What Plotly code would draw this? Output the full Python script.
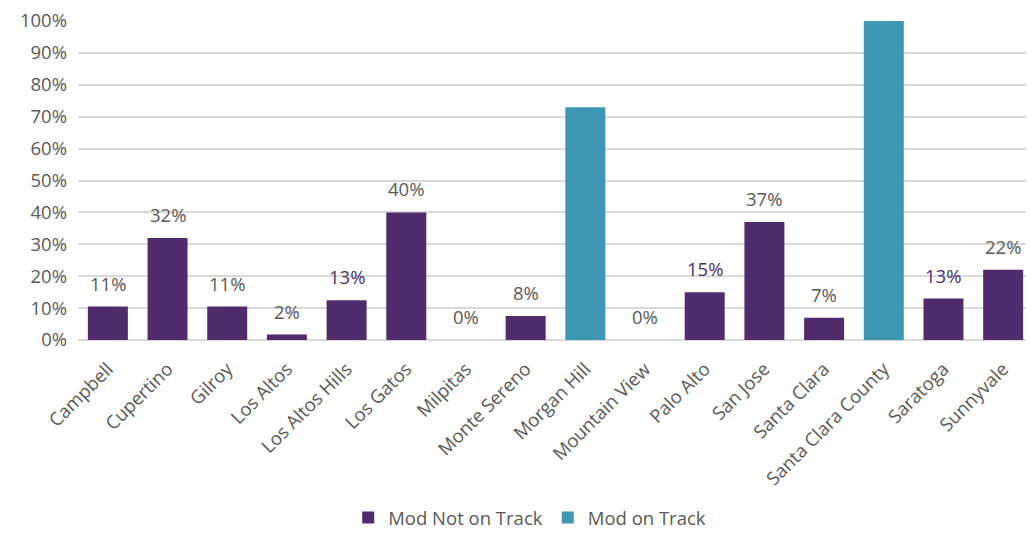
import plotly.graph_objects as go

categories = ["Campbell", "Cupertino", "Gilroy", "Los Altos", "Los Altos Hills", "Los Gatos",
              "Milpitas", "Monte Sereno", "Morgan Hill", "Mountain View", "Palo Alto", "San Jose",
              "Santa Clara", "Santa Clara County", "Saratoga", "Sunnyvale"]
not_on_track = [0.105, 0.32, 0.105, 0.017, 0.125, 0.40, 0.0, 0.075, None, 0.0, 0.15, 0.37,
                0.07, None, 0.13, 0.22]
on_track = [None, None, None, None, None, None, None, None, 0.73, None, None, None,
            None, 1.0, None, None]
labels = ["11%", "32%", "11%", "2%", "13%", "40%", "0%", "8%", None, "0%", "15%", "37%",
          "7%", None, "13%", "22%"]
label_purple = [False, False, False, False, True, False, False, False, False, False, True, False,
                False, False, True, False]

PURPLE = "#512C6C"
TEAL = "#3F97B6"
GRAY = "#595959"
FONT = "Open Sans"

fig = go.Figure()
fig.add_trace(go.Bar(x=categories, y=not_on_track, name="Mod Not on Track",
                     marker=dict(color=PURPLE, line=dict(width=0))))
fig.add_trace(go.Bar(x=categories, y=on_track, name="Mod on Track",
                     marker=dict(color=TEAL, line=dict(width=0))))

for c, v, t, p in zip(categories, not_on_track, labels, label_purple):
    if t is None:
        continue
    fig.add_annotation(x=c, y=v if v is not None else 0, text=t, showarrow=False,
                       yanchor="bottom", yshift=9,
                       font=dict(family=FONT, size=18.5, color=PURPLE if p else GRAY))

fig.update_layout(
    width=1026, height=536,
    margin=dict(l=70, r=1, t=13, b=204, autoexpand=False),
    barmode="overlay", bargap=0.33,
    plot_bgcolor="white", paper_bgcolor="white",
    font=dict(family=FONT, size=18, color=GRAY),
    showlegend=True,
    legend=dict(orientation="h", x=0.473, xanchor="center", y=-0.558, yanchor="middle",
                font=dict(family=FONT, size=18.5, color=GRAY), itemwidth=30,
                traceorder="normal"),
    xaxis=dict(tickangle=-45, showgrid=False, showline=False, ticks="outside",
               ticklen=10, tickcolor="rgba(0,0,0,0)", automargin=False,
               tickfont=dict(family=FONT, size=18.5, color=GRAY)),
    yaxis=dict(range=[0, 1.0], dtick=0.1, tickformat=".0%", showgrid=True,
               gridcolor="#D9D9D9", gridwidth=1.5, zeroline=True, zerolinecolor="#D9D9D9",
               zerolinewidth=1.5, showline=False, ticks="", ticklabelstandoff=10,
               automargin=False, ticklabeloverflow="allow",
               tickfont=dict(family=FONT, size=18.5, color=GRAY)),
)

fig.write_html("out.html")
